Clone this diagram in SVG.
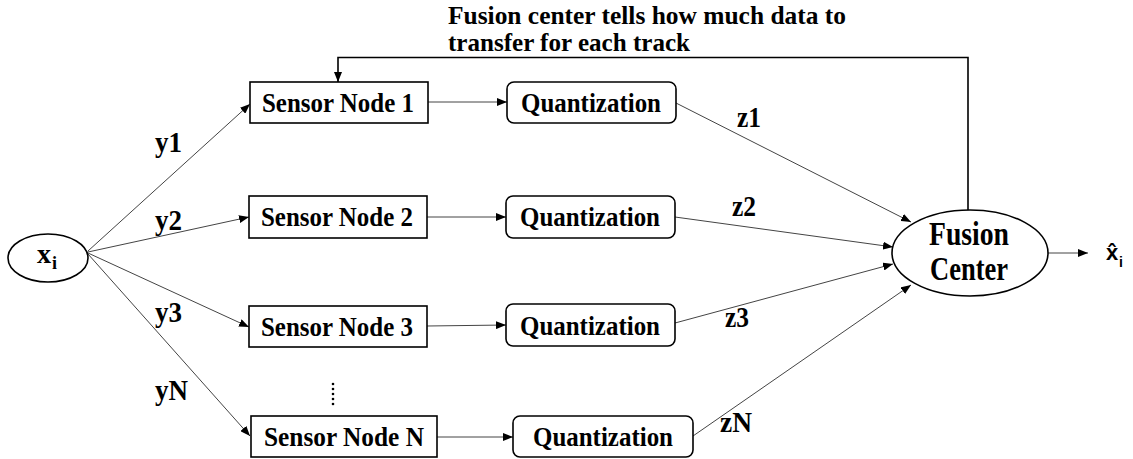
<svg xmlns="http://www.w3.org/2000/svg" width="1133" height="459" viewBox="0 0 1133 459">
<style>
.bg{fill:#fff}
.box{fill:#fff;stroke:#000;stroke-width:1.6}
.t{font-family:"Liberation Serif","Times New Roman",serif;font-weight:bold;fill:#000}
.c{stroke:#444;stroke-width:1;fill:none}
.fb{stroke:#000;stroke-width:1.6;fill:none}
</style>
<defs>
<marker id="ah" viewBox="0 0 10 8" refX="10" refY="4" markerWidth="10" markerHeight="8" markerUnits="userSpaceOnUse" orient="auto">
<path d="M0,0 L10,4 L0,8 Z" fill="#000"/>
</marker>
</defs>
<rect class="bg" x="0" y="0" width="1133" height="459"/>

<g id="connectors">
<line class="c" x1="88" y1="251" x2="250" y2="104" marker-end="url(#ah)"/>
<line class="c" x1="88" y1="252" x2="249" y2="217" marker-end="url(#ah)"/>
<line class="c" x1="88" y1="253" x2="249" y2="327" marker-end="url(#ah)"/>
<line class="c" x1="88" y1="254" x2="250" y2="436" marker-end="url(#ah)"/>
<line class="c" x1="428" y1="102" x2="507" y2="102" marker-end="url(#ah)"/>
<line class="c" x1="427" y1="217" x2="506" y2="217" marker-end="url(#ah)"/>
<line class="c" x1="427" y1="326" x2="506" y2="325" marker-end="url(#ah)"/>
<line class="c" x1="437" y1="437" x2="513" y2="437" marker-end="url(#ah)"/>
<line class="c" x1="676" y1="103" x2="911" y2="222" marker-end="url(#ah)"/>
<line class="c" x1="675" y1="217" x2="893" y2="247" marker-end="url(#ah)"/>
<line class="c" x1="675" y1="323" x2="893" y2="264" marker-end="url(#ah)"/>
<line class="c" x1="693" y1="436" x2="911" y2="285" marker-end="url(#ah)"/>
<line class="c" x1="1048" y1="253" x2="1088" y2="253" marker-end="url(#ah)"/>
<path class="fb" d="M968,210 V57.5 H338 V82" marker-end="url(#ah)"/>
<text class="t" x="155" y="152" font-size="29" textLength="27" lengthAdjust="spacingAndGlyphs">y1</text>
<text class="t" x="155" y="230" font-size="29" textLength="27" lengthAdjust="spacingAndGlyphs">y2</text>
<text class="t" x="155" y="322" font-size="29" textLength="27" lengthAdjust="spacingAndGlyphs">y3</text>
<text class="t" x="155" y="400" font-size="29" textLength="33" lengthAdjust="spacingAndGlyphs">yN</text>
<text class="t" x="737" y="127" font-size="29" textLength="24" lengthAdjust="spacingAndGlyphs">z1</text>
<text class="t" x="732" y="216" font-size="29" textLength="24" lengthAdjust="spacingAndGlyphs">z2</text>
<text class="t" x="725" y="327" font-size="29" textLength="24" lengthAdjust="spacingAndGlyphs">z3</text>
<text class="t" x="720" y="432" font-size="29" textLength="32" lengthAdjust="spacingAndGlyphs">zN</text>
<text class="t" x="448" y="24" font-size="25" textLength="398" lengthAdjust="spacingAndGlyphs">Fusion center tells how much data to</text>
<text class="t" x="448" y="51" font-size="25" textLength="242" lengthAdjust="spacingAndGlyphs">transfer for each track</text>
</g>

<g id="node-xi">
<ellipse class="box" cx="48" cy="258" rx="40" ry="24"/>
<text class="t" x="37" y="263" font-size="28">x</text>
<text class="t" x="52" y="269" font-size="18">i</text>
</g>

<g id="node-sensor1">
<rect class="box" x="250" y="82" width="178" height="41"/>
<text class="t" x="262" y="112" font-size="28" textLength="152" lengthAdjust="spacingAndGlyphs">Sensor Node 1</text>
</g>
<g id="node-quant1">
<rect class="box" x="507" y="82" width="169" height="41" rx="7"/>
<text class="t" x="521" y="112" font-size="28" textLength="140" lengthAdjust="spacingAndGlyphs">Quantization</text>
</g>

<g id="node-sensor2">
<rect class="box" x="249" y="196" width="178" height="42"/>
<text class="t" x="261" y="226" font-size="28" textLength="152" lengthAdjust="spacingAndGlyphs">Sensor Node 2</text>
</g>
<g id="node-quant2">
<rect class="box" x="506" y="196" width="169" height="42" rx="7"/>
<text class="t" x="520" y="226" font-size="28" textLength="140" lengthAdjust="spacingAndGlyphs">Quantization</text>
</g>

<g id="node-sensor3">
<rect class="box" x="249" y="306" width="178" height="41"/>
<text class="t" x="261" y="336" font-size="28" textLength="152" lengthAdjust="spacingAndGlyphs">Sensor Node 3</text>
</g>
<g id="node-quant3">
<rect class="box" x="506" y="304" width="169" height="42" rx="7"/>
<text class="t" x="520" y="335" font-size="28" textLength="140" lengthAdjust="spacingAndGlyphs">Quantization</text>
</g>

<g id="dots">
<circle cx="333" cy="384" r="1.3" fill="#000"/>
<circle cx="333" cy="389" r="1.3" fill="#000"/>
<circle cx="333" cy="394" r="1.3" fill="#000"/>
<circle cx="333" cy="399" r="1.3" fill="#000"/>
<circle cx="333" cy="404" r="1.3" fill="#000"/>
</g>

<g id="node-sensorN">
<rect class="box" x="251" y="416" width="186" height="41"/>
<text class="t" x="264" y="446" font-size="28" textLength="160" lengthAdjust="spacingAndGlyphs">Sensor Node N</text>
</g>
<g id="node-quantN">
<rect class="box" x="513" y="416" width="180" height="41" rx="7"/>
<text class="t" x="533" y="446" font-size="28" textLength="140" lengthAdjust="spacingAndGlyphs">Quantization</text>
</g>

<g id="node-fusion">
<ellipse class="box" cx="970" cy="253" rx="78" ry="43"/>
<text class="t" x="969" y="245" font-size="33" text-anchor="middle" textLength="80" lengthAdjust="spacingAndGlyphs">Fusion</text>
<text class="t" x="969" y="280" font-size="33" text-anchor="middle" textLength="78" lengthAdjust="spacingAndGlyphs">Center</text>
</g>

<g id="output">
<text x="1106" y="260" font-family="Liberation Sans, Arial, sans-serif" font-weight="bold" font-size="22">x̂</text>
<text x="1119" y="267" font-family="Liberation Sans, Arial, sans-serif" font-weight="bold" font-size="14">i</text>
</g>
</svg>
